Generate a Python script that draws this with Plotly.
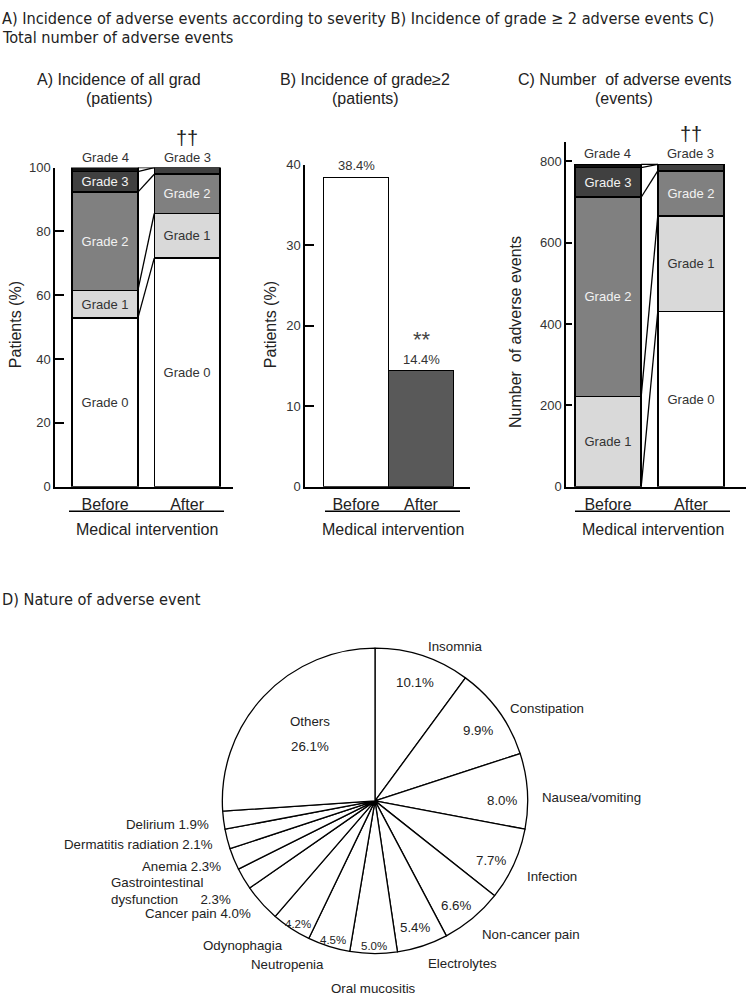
"""Adverse events before/after medical intervention"""

import numpy as np
import plotly.graph_objects as go

W, H = 750, 997

# ---- data ----
periods = ["Before", "After"]
grades = ["Grade 0", "Grade 1", "Grade 2", "Grade 3", "Grade 4"]

# A) incidence of all grades, % of patients
pct_before = [52.8, 8.7, 30.8, 6.4, 1.3]
pct_after = [71.6, 14.0, 12.3, 2.1, 0.0]

# B) incidence of grade >= 2, % of patients
grade2_pct = [38.4, 14.4]
grade2_sig = ["", "**"]

# C) number of adverse events
events_before = [0, 222, 490, 73, 8]
events_after = [431, 235, 111, 16, 0]

# D) nature of adverse events (%), clockwise from 12 o'clock
ae_names = ["Insomnia", "Constipation", "Nausea/vomiting", "Infection",
            "Non-cancer pain", "Electrolytes", "Oral mucositis", "Neutropenia",
            "Odynophagia", "Cancer pain", "Gastrointestinal<br>dysfunction",
            "Anemia", "Dermatitis radiation", "Delirium", "Others"]
ae_pct = [10.1, 9.9, 8.0, 7.7, 6.6, 5.4, 5.0, 4.5, 4.2, 4.0, 2.3, 2.3, 2.1, 1.9, 26.1]

# ---- style ----
ARIAL = "Liberation Sans, Arial, sans-serif"
HEAD = "DejaVu Sans Condensed, DejaVu Sans, sans-serif"
INK = "#222222"
fills = ["#ffffff", "#d9d9d9", "#808080", "#404040", "#111111"]
text_cols = ["#333333", "#333333", "#f2f2f2", "#f2f2f2", "#ffffff"]
label_style = ["in", "in", "in", "in", "in", "in", "edge", "edge", "edge",
               "out", "out", "out", "out", "out", "center"]


def px(x):
    return x / W


def py(y):
    return 1 - y / H


def note(x, y, text, size=13.3, family=ARIAL, color=INK, **kw):
    """Paper-referenced text placed at pixel coords"""
    d = dict(x=px(x), y=py(y), xref="paper", yref="paper", text=text,
             showarrow=False, xanchor="center", yanchor="middle", borderpad=0,
             font=dict(family=family, size=size, color=color))
    d.update(kw)
    return d


fig = go.Figure()
annotations = []
shapes = []


def stacked_panel(before, after, xa, ya, px_per_unit, width):
    """Stacked before/after bars with series lines"""
    for i, g in enumerate(grades):
        vals = [before[i], after[i]]
        txt = [g if v * px_per_unit >= 16 else "" for v in vals]
        fig.add_trace(go.Bar(
            x=[0, 1], y=vals, width=width, xaxis=xa, yaxis=ya,
            marker=dict(color=fills[i], line=dict(color="black", width=1.5)),
            text=txt, textposition="inside", insidetextanchor="middle",
            constraintext="none", textangle=0,
            textfont=dict(family=ARIAL, size=13, color=text_cols[i]),
            showlegend=False, hoverinfo="skip",
        ))
    cb, ca = np.cumsum(before), np.cumsum(after)
    for k in range(len(grades)):
        fig.add_trace(go.Scatter(
            x=[width / 2, 1 - width / 2], y=[cb[k], ca[k]], mode="lines",
            line=dict(color="black", width=1.3), xaxis=xa, yaxis=ya,
            showlegend=False, hoverinfo="skip",
        ))
    # thin top segments labelled above the bars
    for j, vals in enumerate([before, after]):
        top = max(i for i, v in enumerate(vals) if v > 0)
        if vals[top] * px_per_unit < 16:
            annotations.append(dict(
                x=j, y=sum(vals), xref=xa, yref=ya, text=grades[top],
                showarrow=False, xanchor="center", yanchor="bottom", yshift=1,
                font=dict(family=ARIAL, size=13, color="#333333")))
    annotations.append(dict(
        x=1, y=sum(after), xref=xa, yref=ya, text="††", showarrow=False,
        xanchor="center", yanchor="bottom", yshift=17,
        font=dict(family=ARIAL, size=20, color=INK)))


stacked_panel(pct_before, pct_after, "x", "y", 324 / 100, 0.8)
stacked_panel(events_before, events_after, "x3", "y3", 330 / 800, 0.8)

fig.add_trace(go.Bar(
    x=[0, 1], y=grade2_pct, width=1.0, xaxis="x2", yaxis="y2",
    marker=dict(color=["#ffffff", "#595959"], line=dict(color="black", width=1.5)),
    showlegend=False, hoverinfo="skip",
))
for j, (v, sig) in enumerate(zip(grade2_pct, grade2_sig)):
    txt = f"{v}%"
    if sig:
        txt = f"<span style='font-size:22px;fill:#444444'>{sig}</span><br>{txt}"
    annotations.append(dict(
        x=j, y=v, xref="x2", yref="y2", text=txt, showarrow=False,
        xanchor="center", yanchor="bottom", yshift=3, borderpad=0,
        font=dict(family=ARIAL, size=13, color="#333333")))

# ---- pie ----
cx, cy, R = 375, 806, 155
fig.add_trace(go.Pie(
    values=ae_pct, labels=[n.replace("<br>", " ") for n in ae_names],
    sort=False, direction="clockwise", rotation=0,
    marker=dict(colors=["#ffffff"] * len(ae_pct), line=dict(color="black", width=1.3)),
    textinfo="none", hoverinfo="label+percent", showlegend=False,
    domain=dict(x=[px(cx - R), px(cx + R)], y=[py(cy + R), py(cy - R)]),
))

frac = np.array(ae_pct) / sum(ae_pct)
mids = (np.cumsum(frac) - frac / 2) * 2 * np.pi


def at(theta, r, drop=8.0):
    c = np.cos(theta)
    # labels sit a little lower on the lower half of the pie
    return cx + np.sin(theta) * r, cy - c * r + drop * min(1.0, 1.0 - c)


for name, v, th, st in zip(ae_names, ae_pct, mids, label_style):
    pct = f"{v:.1f}%"
    s, c = np.sin(th), np.cos(th)
    if st == "center":
        x, y = at(th, 0.57 * R)
        annotations.append(note(x, y + 3, pct))
        annotations.append(note(x, y - 23, name))
        continue
    drop = 8.0
    if st == "out":
        sep = "      " if "<br>" in name else " "
        outer = name + sep + pct
        drop = 3.2
    else:
        outer = name
        rr = 0.82 if st == "in" else 0.9
        annotations.append(note(*at(th, rr * R), pct, size=13.3 if st == "in" else 11.5))
    rr = 1.07
    if s > 0.25:
        xa, ya = "left", "middle"
    elif s < -0.25:
        xa, ya = "right", "middle"
    else:
        xa, ya = "center", ("top" if c < 0 else "bottom")
        rr = 1.12
    x, y = at(th, rr * R, drop)
    if "<br>" in outer:
        y += 4
    annotations.append(note(x, y, outer, xanchor=xa, yanchor=ya, align="left"))

# ---- texts ----
annotations += [
    note(1, 12, "A) Incidence of adverse events according to severity B) Incidence of grade ≥ 2 adverse events C)",
         size=16.2, family=HEAD, xanchor="left"),
    note(1, 31, "Total number of adverse events", size=16.2, family=HEAD, xanchor="left"),
    note(1, 602, "D) Nature of adverse event", size=16.2, family=HEAD, xanchor="left"),
]

titles = [(119, "A) Incidence of all grad", "(patients)"),
          (365, "B) Incidence of grade≥2", "(patients)"),
          (624, "C) Number  of adverse events", "(events)")]
for x, t1, t2 in titles:
    annotations.append(note(x, 74, t1, size=16))
    annotations.append(note(x, 93, t2, size=16))

for x, y, txt in [(15, 323, "Patients (%)"), (270, 323, "Patients (%)"),
                  (515, 330, "Number  of adverse events")]:
    annotations.append(note(x, y, txt, size=16, textangle=-90))

for x0, x1 in [(69, 224), (325, 460), (575, 730)]:
    shapes.append(dict(type="line", xref="paper", yref="paper", x0=px(x0), x1=px(x1),
                       y0=py(512), y1=py(512), line=dict(color="black", width=1.5)))
    annotations.append(note((x0 + x1) / 2, 530, "Medical intervention", size=16))


def xaxis(x0, x1, rng):
    return dict(domain=[px(x0), px(x1)], range=rng, tickvals=[0, 1], ticktext=periods,
                ticks="", showline=True, linecolor="black", linewidth=1.5,
                showgrid=False, zeroline=False, ticklabelstandoff=2,
                tickfont=dict(family=ARIAL, size=16, color=INK))


def yaxis(y0, y1, rng, dtick, ticklen):
    return dict(domain=[py(y0), py(y1)], range=rng, dtick=dtick, ticks="inside",
                ticklen=ticklen, tickwidth=1.5, tickcolor="black", showline=True,
                linecolor="black", linewidth=1.5, showgrid=False, zeroline=False,
                tickfont=dict(family=ARIAL, size=13, color="#333333"))


fig.update_layout(
    width=W, height=H, margin=dict(l=0, r=0, t=0, b=0),
    paper_bgcolor="white", plot_bgcolor="white", barmode="stack",
    xaxis=dict(xaxis(55, 233, [-0.61, 1.56]), anchor="y"),
    yaxis=dict(yaxis(487, 163, [0, 100], 20, 9), anchor="x"),
    xaxis2=dict(xaxis(305, 470, [-0.785, 1.754]), anchor="y2"),
    yaxis2=dict(yaxis(487, 160, [0, 40], 10, 9), anchor="x2"),
    xaxis3=dict(xaxis(566, 746, [-0.506, 1.663]), anchor="y3"),
    yaxis3=dict(yaxis(487, 137, [0, 848], 200, 6), anchor="x3"),
    annotations=annotations, shapes=shapes,
)

fig.write_html("out.html", config={"displayModeBar": False},
               post_script="document.body.style.margin='0px';")
